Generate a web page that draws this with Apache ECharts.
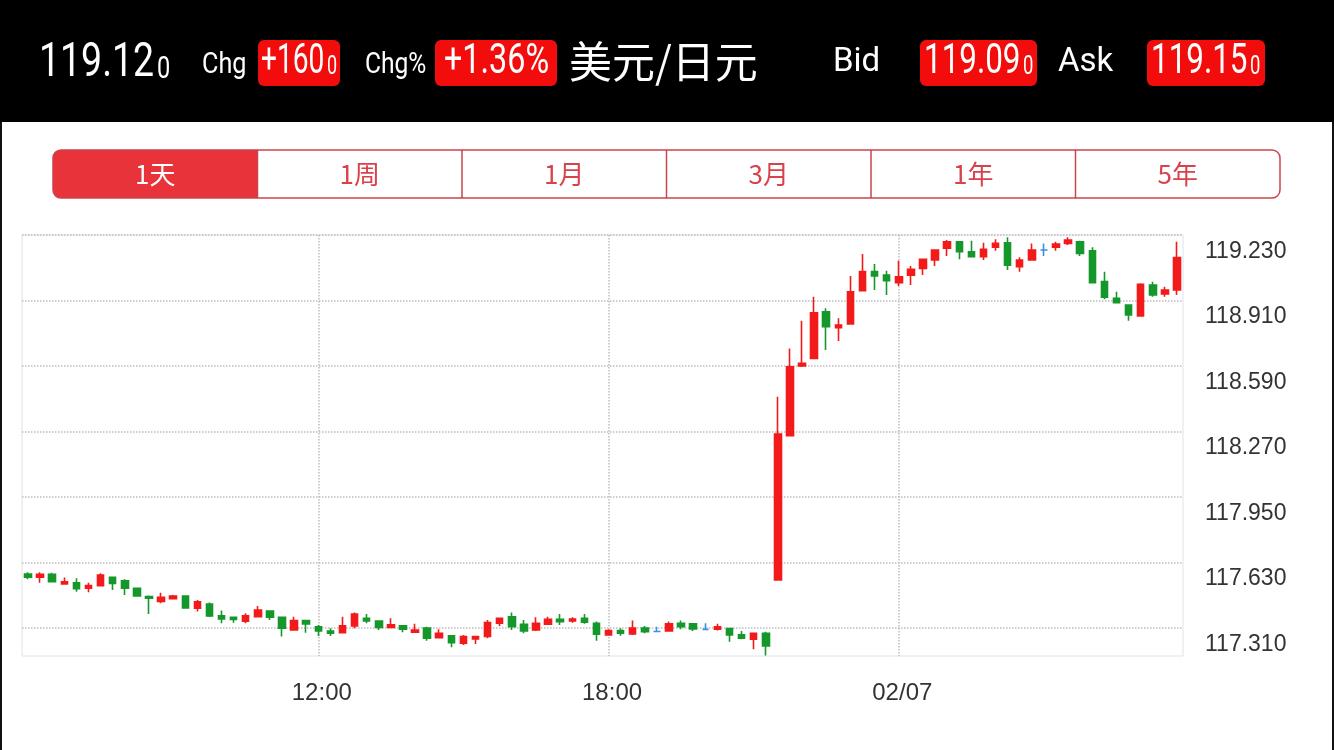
<!DOCTYPE html>
<html><head><meta charset="utf-8">
<script src="https://cdn.jsdelivr.net/npm/echarts@6/dist/echarts.min.js"></script>
<style>html,body{margin:0;padding:0;background:#fff}#c{width:1334px;height:750px}</style>
</head><body><div id="c"></div>
<script>
// ---- data ----
const times = ("06:00 06:15 06:30 06:45 07:00 07:15 07:30 07:45 08:00 08:15 08:30 08:45 " +
  "09:00 09:15 09:30 09:45 10:00 10:15 10:30 10:45 11:00 11:15 11:30 11:45 " +
  "12:00 12:15 12:30 12:45 13:00 13:15 13:30 13:45 14:00 14:15 14:30 14:45 " +
  "15:00 15:15 15:30 15:45 16:00 16:15 16:30 16:45 17:00 17:15 17:30 17:45 " +
  "18:00 18:15 18:30 18:45 19:00 19:15 19:30 19:45 20:00 20:15 20:30 20:45 " +
  "21:00 21:15 21:30 21:45 22:00 22:15 22:30 22:45 23:00 23:15 23:30 23:45 " +
  "00:00 00:15 00:30 00:45 01:00 01:15 01:30 01:45 02:00 02:15 02:30 02:45 " +
  "03:00 03:15 03:30 03:45 04:00 04:15 04:30 04:45 05:00 05:15 05:30 05:45").split(" ");

const open = [117.574,117.558,117.572,117.525,117.531,117.504,117.517,117.558,117.541,117.504,
  117.463,117.440,117.453,117.466,117.406,117.427,117.370,117.362,117.343,117.365,
  117.393,117.362,117.300,117.346,117.316,117.295,117.287,117.320,117.357,117.344,
  117.313,117.321,117.289,117.309,117.263,117.272,117.235,117.256,117.268,117.333,
  117.365,117.328,117.300,117.328,117.352,117.344,117.357,117.333,117.276,117.297,
  117.281,117.309,117.293,117.295,117.333,117.330,117.303,117.304,117.307,117.276,
  117.255,117.284,117.544,118.249,118.590,118.627,118.855,118.777,118.795,118.958,
  119.051,119.034,118.997,119.034,119.067,119.108,119.165,119.197,119.148,119.124,
  119.170,119.192,119.075,119.108,119.157,119.170,119.189,119.197,119.153,119.002,
  118.921,118.888,118.834,118.986,118.942,118.961];
const close = [117.558,117.572,117.536,117.536,117.502,117.517,117.569,117.528,117.504,117.466,
  117.455,117.460,117.466,117.408,117.438,117.369,117.354,117.352,117.369,117.398,
  117.362,117.309,117.346,117.330,117.295,117.284,117.320,117.378,117.344,117.313,
  117.325,117.304,117.300,117.260,117.284,117.238,117.268,117.268,117.336,117.357,
  117.316,117.295,117.333,117.352,117.341,117.354,117.338,117.279,117.297,117.284,
  117.309,117.292,117.293,117.330,117.316,117.305,117.303,117.316,117.276,117.260,
  117.284,117.222,118.258,118.586,118.603,118.850,118.782,118.790,118.953,119.051,
  119.030,119.007,119.026,119.062,119.111,119.157,119.197,119.148,119.124,119.160,
  119.189,119.083,119.108,119.157,119.157,119.186,119.205,119.140,118.997,118.926,
  118.899,118.839,118.989,118.937,118.961,119.120];
const low = [117.548,117.531,117.533,117.523,117.487,117.484,117.512,117.496,117.471,117.465,
  117.378,117.431,117.450,117.405,117.390,117.364,117.333,117.336,117.333,117.362,
  117.349,117.268,117.299,117.287,117.271,117.271,117.284,117.309,117.333,117.300,
  117.311,117.289,117.287,117.248,117.261,117.216,117.227,117.232,117.260,117.320,
  117.300,117.284,117.295,117.325,117.325,117.336,117.330,117.248,117.272,117.272,
  117.276,117.284,117.289,117.292,117.304,117.295,117.299,117.297,117.243,117.255,
  117.206,117.176,117.544,118.249,118.585,118.624,118.668,118.712,118.795,118.955,
  118.961,118.937,118.981,118.986,119.034,119.078,119.127,119.111,119.122,119.108,
  119.153,119.059,119.051,119.104,119.127,119.153,119.181,119.127,118.994,118.916,
  118.898,118.811,118.831,118.928,118.928,118.937];
const high = [117.582,117.582,117.580,117.556,117.553,117.531,117.577,117.561,117.548,117.507,
  117.468,117.482,117.471,117.469,117.447,117.434,117.395,117.364,117.382,117.417,
  117.396,117.365,117.365,117.349,117.325,117.309,117.365,117.385,117.378,117.346,
  117.357,117.323,117.330,117.316,117.304,117.276,117.276,117.270,117.349,117.359,
  117.385,117.349,117.362,117.365,117.378,117.362,117.378,117.341,117.304,117.309,
  117.346,117.320,117.316,117.341,117.346,117.333,117.333,117.330,117.310,117.295,
  117.286,117.292,118.440,118.676,118.811,118.928,118.872,118.823,119.030,119.137,
  119.088,119.055,119.104,119.078,119.114,119.160,119.205,119.200,119.202,119.192,
  119.209,119.219,119.121,119.189,119.189,119.197,119.219,119.202,119.170,119.051,
  118.953,118.891,118.994,119.002,118.977,119.197];

const yTicks = [117.31, 117.63, 117.95, 118.27, 118.59, 118.91, 119.23];
const xTickCats = ["12:00", "18:00", "00:00"];
const xTickLabels = ["12:00", "18:00", "02/07"];
const tabs = ["1天", "1周", "1月", "3月", "1年", "5年"];

// ---- styling ----
const UP = '#f21a1a', DOWN = '#15982b', DOJI = '#3a8fe4';
const HEAD_RED = '#f20c0c';
const TAB_RED = '#c9444c', TAB_FILL = '#e8333b', TAB_TEXT = '#d8434b';
const LATIN = 'Roboto, "Liberation Sans", sans-serif';
const CJK = '"Noto Sans CJK SC", sans-serif';

const candleData = times.map((t, i) => {
  const item = { value: [open[i], close[i], low[i], high[i]] };
  if (open[i] === close[i]) item.itemStyle = { color: DOJI, color0: DOJI, borderColor: DOJI, borderColor0: DOJI };
  return item;
});

function txt(text, x, y, size, opts) {
  opts = opts || {};
  return {
    type: 'text', x: x, y: y, scaleX: opts.scaleX || 1, z: 10,
    style: {
      text: text, fill: opts.fill || '#fff', fontSize: size,
      fontFamily: opts.family || LATIN, fontWeight: opts.weight || 'normal',
      align: opts.align || 'left', verticalAlign: 'middle'
    }
  };
}
function box(x, w) {
  return { type: 'rect', z: 9, shape: { x: x, y: 40, width: w, height: 46, r: 6 }, style: { fill: HEAD_RED } };
}

const graphics = [
  { type: 'rect', z: 8, shape: { x: 0, y: 0, width: 1334, height: 122 }, style: { fill: '#000' } },
  { type: 'rect', z: 8, shape: { x: 0, y: 122, width: 2, height: 628 }, style: { fill: '#111' } },
  { type: 'rect', z: 8, shape: { x: 1332, y: 122, width: 2, height: 628 }, style: { fill: '#111' } },
  txt('119.12', 39, 64, 48, { scaleX: 0.78 }),
  txt('0', 157, 70, 31, { scaleX: 0.76 }),
  txt('Chg', 202, 65, 30, { scaleX: 0.84 }),
  box(258, 82),
  txt('+160', 261, 62.5, 42, { scaleX: 0.67 }),
  txt('0', 327, 68, 25, { scaleX: 0.72 }),
  txt('Chg%', 365, 65, 30, { scaleX: 0.82 }),
  box(435, 122),
  txt('+1.36%', 444, 62.5, 42, { scaleX: 0.77 }),
  txt('美元/日元', 569, 62, 43, { family: CJK }),
  txt('Bid', 833, 63, 33),
  box(920, 117),
  txt('119.09', 924, 62.5, 43, { scaleX: 0.73 }),
  txt('0', 1023, 68, 25, { scaleX: 0.74 }),
  txt('Ask', 1058, 63, 33),
  box(1147, 118),
  txt('119.15', 1151, 62.5, 43, { scaleX: 0.73 }),
  txt('0', 1250, 68, 25, { scaleX: 0.74 })
];

// tabs
const tabX = 53, tabW = 204.5, tabY = 150, tabH = 48;
graphics.push({ type: 'rect', z: 9, shape: { x: tabX, y: tabY, width: tabW, height: tabH, r: [8, 0, 0, 8] }, style: { fill: TAB_FILL } });
graphics.push({ type: 'rect', z: 10, shape: { x: tabX, y: tabY, width: tabW * tabs.length, height: tabH, r: 8 }, style: { fill: 'none', stroke: TAB_RED, lineWidth: 1.5 } });
tabs.forEach((t, i) => {
  if (i > 0) graphics.push({ type: 'line', z: 10, shape: { x1: tabX + tabW * i, y1: tabY, x2: tabX + tabW * i, y2: tabY + tabH }, style: { stroke: TAB_RED, lineWidth: 1.5 } });
  graphics.push(txt(t, tabX + tabW * (i + 0.5), tabY + tabH / 2, 26, { family: CJK, align: 'center', fill: i === 0 ? '#fff' : TAB_TEXT }));
});

const chart = echarts.init(document.getElementById('c'));
chart.setOption({
  animation: false,
  backgroundColor: '#fff',
  graphic: graphics,
  grid: { left: 22, right: 151, top: 235, bottom: 94, show: true, borderColor: '#dde3ea', borderWidth: 1, backgroundColor: 'transparent' },
  xAxis: {
    type: 'category', data: times, boundaryGap: true,
    axisLine: { show: false }, axisTick: { show: false },
    axisLabel: {
      interval: (idx, v) => xTickCats.includes(v),
      formatter: v => xTickLabels[xTickCats.indexOf(v)],
      fontSize: 24, color: '#333', margin: 25, padding: [0, 0, 0, 7],
      fontFamily: '"Liberation Sans", Arial, sans-serif'
    },
    splitLine: {
      show: true, alignWithLabel: true,
      interval: (idx, v) => xTickCats.includes(v),
      lineStyle: { type: 'dotted', color: '#bdbdbd', width: 1.5 }
    }
  },
  yAxis: {
    type: 'value', position: 'right', scale: true, min: 117.173, max: 119.23,
    axisLine: { show: false },
    axisTick: { show: false, customValues: yTicks },
    axisLabel: {
      customValues: yTicks, formatter: v => v.toFixed(3),
      fontSize: 23, color: '#333', margin: 22, align: 'left', verticalAlign: 'top', lineHeight: 33,
      fontFamily: '"Liberation Sans", Arial, sans-serif'
    },
    splitLine: { show: true, lineStyle: { type: 'dotted', color: '#bdbdbd', width: 1.5 } }
  },
  series: [{
    type: 'candlestick', data: candleData, barWidth: 7,
    itemStyle: { color: UP, color0: DOWN, borderColor: UP, borderColor0: DOWN, borderWidth: 1.6 }
  }]
});
</script></body></html>
